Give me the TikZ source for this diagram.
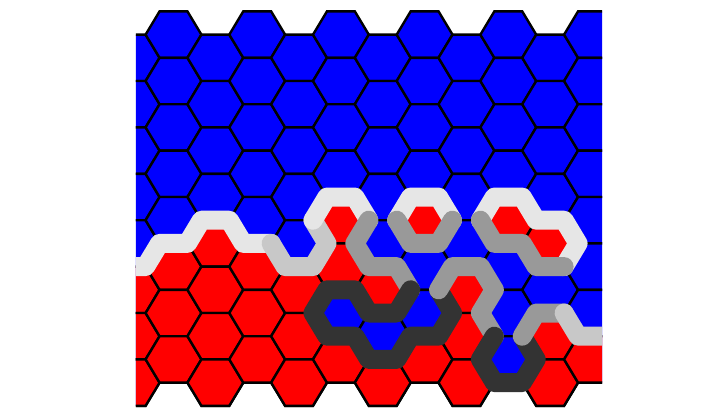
\documentclass[tikz,border=0pt]{standalone}
\usepackage{tikz}
\usepackage{xcolor}
\definecolor{blueside}{HTML}{0000FF}
\definecolor{redside}{HTML}{FF0000}
\definecolor{trailA}{HTML}{E6E6E6}
\definecolor{trailB}{HTML}{C8C8C8}
\definecolor{trailC}{HTML}{999999}
\definecolor{trailD}{HTML}{333333}

\begin{document}
\begin{tikzpicture}[
  x=1pt, y=-1pt,
  cell/.style={draw=black, line width=2.4pt},
  bluecell/.style={cell, fill=blueside},
  redcell/.style={cell, fill=redside},
  trail/.style={line width=19pt, line cap=round, line join=round},
  tA/.style={trail, draw=trailA},
  tB/.style={trail, draw=trailB},
  tC/.style={trail, draw=trailC},
  tD/.style={trail, draw=trailD}
]
\useasboundingbox (0,0) rectangle (713,415);

\begin{scope}[shift={(103.75,11.4)}, x=13.95pt, y=-23.2pt]
\clip (2.31,-1) rectangle (35.72,18);

% board: every cell blue first, then the red ones on top
\foreach \c in {-1,...,10}
  \foreach \r in {0,...,7} {
    \pgfmathsetmacro\hx{5+3*\c}
    \pgfmathsetmacro\hy{1+2*\r+mod(\c+2,2)}
    \draw[bluecell] (\hx-2,\hy) -- (\hx-1,\hy-1) -- (\hx+1,\hy-1)
      -- (\hx+2,\hy) -- (\hx+1,\hy+1) -- (\hx-1,\hy+1) -- cycle;
  }
\foreach \c/\r in {-1/5,-1/6,-1/7, 0/5,0/6,0/7, 1/4,1/5,1/6,1/7,
                   2/5,2/6,2/7, 3/5,3/6,3/7, 4/4,4/5,4/7, 5/5,5/7,
                   6/4,6/7, 7/5,7/6,7/7, 8/4, 9/4,9/6,9/7, 10/7} {
    \pgfmathsetmacro\hx{5+3*\c}
    \pgfmathsetmacro\hy{1+2*\r+mod(\c+2,2)}
    \draw[redcell] (\hx-2,\hy) -- (\hx-1,\hy-1) -- (\hx+1,\hy-1)
      -- (\hx+2,\hy) -- (\hx+1,\hy+1) -- (\hx-1,\hy+1) -- cycle;
  }

% interface from left to right, piece by piece
\draw[tA] (1,11) -- (3,11) -- (4,10) -- (6,10) -- (7,9) -- (9,9) -- (10,10) -- (12,10);
\draw[tB] (12,10) -- (13,11) -- (15,11) -- (16,10) -- (15,9);
\draw[tA] (15,9) -- (16,8) -- (18,8) -- (19,9);
\draw[tC] (19,9) -- (18,10) -- (19,11) -- (21,11) -- (22,12);
\draw[tD] (22,12) -- (21,13) -- (19,13) -- (18,12) -- (16,12) -- (15,13) -- (16,14)
  -- (18,14) -- (19,15) -- (21,15) -- (22,14) -- (24,14) -- (25,13) -- (24,12);
\draw[tC] (24,12) -- (25,11) -- (27,11) -- (28,12) -- (27,13) -- (28,14);
\draw[tD] (28,14) -- (27,15) -- (28,16) -- (30,16) -- (31,15) -- (30,14);
\draw[tC] (30,14) -- (31,13) -- (33,13);
\draw[tB] (33,13) -- (34,14) -- (36,14);

% loops round the red islands
\draw[tA] (21,9) -- (22,8) -- (24,8) -- (25,9);
\draw[tC] (25,9) -- (24,10) -- (22,10) -- (21,9);
\draw[tA] (27,9) -- (28,8) -- (30,8) -- (31,9) -- (33,9) -- (34,10) -- (33,11);
\draw[tC] (27,9) -- (28,10) -- (30,10) -- (31,11) -- (33,11);
\end{scope}
\end{tikzpicture}
\end{document}
